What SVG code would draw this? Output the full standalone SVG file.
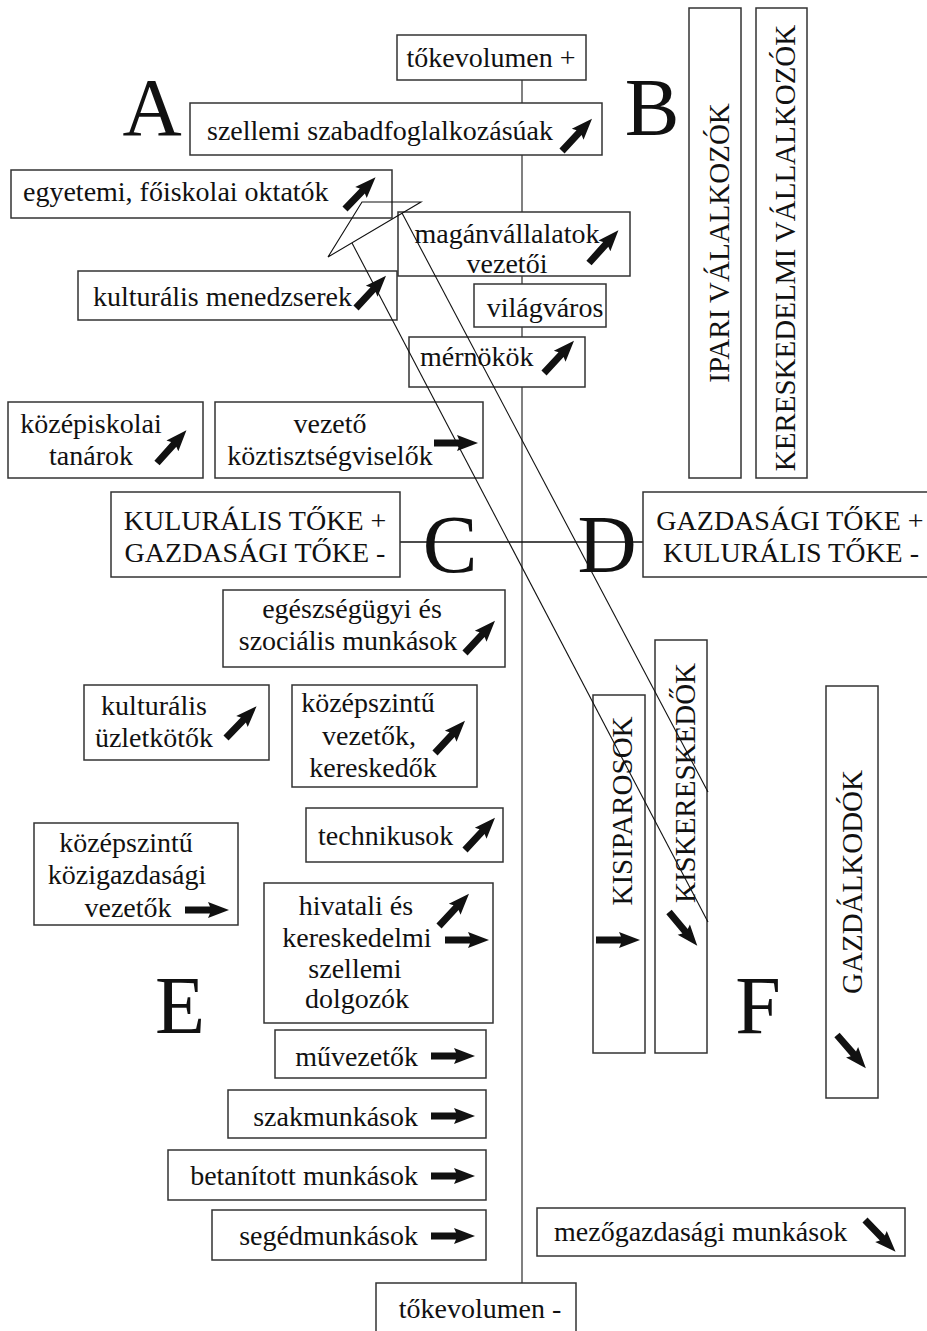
<svg xmlns="http://www.w3.org/2000/svg" xmlns:xlink="http://www.w3.org/1999/xlink" width="927" height="1331" viewBox="0 0 927 1331">
<style>
.box{fill:#fff;stroke:#333;stroke-width:1.5}
.t{font-family:"Liberation Serif","Times New Roman",serif;font-size:28px;fill:#111}
.v{font-size:29px}
.m{text-anchor:middle}
.e{text-anchor:end}
.big{font-family:"Liberation Serif","Times New Roman",serif;font-size:82px;fill:#111;text-anchor:middle}
.axis{stroke:#808080;stroke-width:2;fill:none}
.conn{stroke:#111;stroke-width:1.1;fill:none}
</style>
<defs>
<path id="arr" d="M0,-3.5 L25,-3.5 L23,-8 L44,0 L23,8 L25,3.5 L0,3.5 Z" fill="#111"/>
</defs>
<g id="axes">
<line class="axis" x1="522" y1="80" x2="522" y2="1283"/>
<line x1="400" y1="542" x2="643" y2="542" stroke="#111" stroke-width="1.3"/>
</g>
<g id="letters">
<text class="big" x="152" y="135">A</text>
<text class="big" x="652" y="135">B</text>
<text class="big" x="450" y="572">C</text>
<text class="big" x="607" y="572">D</text>
<text class="big" x="180" y="1033">E</text>
<text class="big" x="758" y="1033">F</text>
</g>
<g id="n-tokeplus"><rect class="box" x="397" y="35" width="189" height="45"/><text class="t m" x="491" y="67">tőkevolumen +</text></g>
<g id="n-szellemi"><rect class="box" x="190" y="103" width="412" height="52"/><text class="t" x="207" y="140">szellemi szabadfoglalkozásúak</text><use href="#arr" transform="translate(562,151) rotate(-47)"/></g>
<g id="n-ipari"><rect class="box" x="689" y="8" width="52" height="470"/><text class="t v m" transform="translate(729,243) rotate(-90)">IPARI VÁLALKOZÓK</text></g>
<g id="n-keresk"><rect class="box" x="756" y="8" width="51" height="470"/><text class="t v m" transform="translate(795,248) rotate(-90)">KERESKEDELMI VÁLLALKOZÓK</text></g>
<g id="n-egyetemi"><rect class="box" x="11" y="170" width="381" height="48"/><text class="t" x="23" y="201">egyetemi, főiskolai oktatók</text><use href="#arr" transform="translate(345,209) rotate(-46)"/></g>
<g id="n-magan"><rect class="box" x="398" y="212" width="232" height="64"/><text class="t m" x="507" y="243">magánvállalatok</text><text class="t m" x="507" y="273">vezetői</text><use href="#arr" transform="translate(589,263) rotate(-48)"/></g>
<g id="n-kultmen"><rect class="box" x="78" y="271" width="319" height="49"/><text class="t" x="93" y="306">kulturális menedzserek</text><use href="#arr" transform="translate(356,308) rotate(-47)"/></g>
<g id="n-vilagvaros"><rect class="box" x="474" y="284" width="132" height="43"/><text class="t m" x="545" y="317">világváros</text></g>
<g id="n-mernokok"><rect class="box" x="409" y="337" width="176" height="50"/><text class="t" x="420" y="366">mérnökök</text><use href="#arr" transform="translate(544,373) rotate(-47)"/></g>
<g id="n-kozepisk"><rect class="box" x="8" y="402" width="195" height="76"/><text class="t m" x="91" y="433">középiskolai</text><text class="t m" x="91" y="465">tanárok</text><use href="#arr" transform="translate(157,463) rotate(-48)"/></g>
<g id="n-vezeto"><rect class="box" x="215" y="402" width="268" height="76"/><text class="t m" x="330" y="433">vezető</text><text class="t m" x="330" y="465">köztisztségviselők</text><use href="#arr" transform="translate(434,443)"/></g>
<g id="n-kultoke"><rect class="box" x="111" y="492" width="289" height="85"/><text class="t m" x="255" y="530">KULURÁLIS TŐKE +</text><text class="t m" x="255" y="562">GAZDASÁGI TŐKE -</text></g>
<g id="n-gazdtoke"><rect class="box" x="643" y="492" width="290" height="85"/><text class="t m" x="790" y="530">GAZDASÁGI TŐKE +</text><text class="t m" x="791" y="562">KULURÁLIS TŐKE -</text></g>
<g id="n-egeszseg"><rect class="box" x="223" y="590" width="282" height="77"/><text class="t m" x="352" y="618">egészségügyi és</text><text class="t m" x="348" y="650">szociális munkások</text><use href="#arr" transform="translate(465,653) rotate(-47)"/></g>
<g id="n-kultuzl"><rect class="box" x="84" y="685" width="185" height="75"/><text class="t m" x="154" y="715">kulturális</text><text class="t m" x="154" y="747">üzletkötők</text><use href="#arr" transform="translate(226,738) rotate(-46)"/></g>
<g id="n-kozepvez"><rect class="box" x="292" y="685" width="185" height="102"/><text class="t m" x="368" y="712">középszintű</text><text class="t m" x="369" y="745">vezetők,</text><text class="t m" x="373" y="777">kereskedők</text><use href="#arr" transform="translate(435,753) rotate(-47)"/></g>
<g id="n-technikus"><rect class="box" x="306" y="808" width="197" height="54"/><text class="t" x="318" y="845">technikusok</text><use href="#arr" transform="translate(465,850) rotate(-47)"/></g>
<g id="n-kozig"><rect class="box" x="34" y="823" width="204" height="102"/><text class="t m" x="126" y="852">középszintű</text><text class="t m" x="127" y="884">közigazdasági</text><text class="t m" x="128" y="917">vezetők</text><use href="#arr" transform="translate(185,910)"/></g>
<g id="n-hivatali"><rect class="box" x="264" y="883" width="229" height="140"/><text class="t m" x="356" y="915">hivatali és</text><text class="t m" x="357" y="947">kereskedelmi</text><text class="t m" x="355" y="978">szellemi</text><text class="t m" x="357" y="1008">dolgozók</text><use href="#arr" transform="translate(439,926) rotate(-47)"/><use href="#arr" transform="translate(445,940)"/></g>
<g id="n-muvezeto"><rect class="box" x="275" y="1030" width="211" height="48"/><text class="t e" x="418" y="1066">művezetők</text><use href="#arr" transform="translate(431,1056)"/></g>
<g id="n-szakmunk"><rect class="box" x="228" y="1090" width="258" height="48"/><text class="t e" x="418" y="1126">szakmunkások</text><use href="#arr" transform="translate(431,1116)"/></g>
<g id="n-betanitott"><rect class="box" x="168" y="1150" width="318" height="50"/><text class="t e" x="418" y="1185">betanított munkások</text><use href="#arr" transform="translate(431,1176)"/></g>
<g id="n-segedmunk"><rect class="box" x="212" y="1210" width="274" height="50"/><text class="t e" x="418" y="1245">segédmunkások</text><use href="#arr" transform="translate(431,1236)"/></g>
<g id="n-mezogazd"><rect class="box" x="537" y="1208" width="368" height="48"/><text class="t" x="554" y="1241">mezőgazdasági munkások</text><use href="#arr" transform="translate(865,1220) rotate(46)"/></g>
<g id="n-tokeminus"><rect class="box" x="376" y="1283" width="200" height="60"/><text class="t m" x="480" y="1318">tőkevolumen -</text></g>
<g id="n-kisiparos"><rect class="box" x="593" y="695" width="52" height="358"/><text class="t v m" transform="translate(632,811) rotate(-90)">KISIPAROSOK</text><use href="#arr" transform="translate(596,940)"/></g>
<g id="n-kiskeresk"><rect class="box" x="655" y="640" width="52" height="413"/><text class="t v m" transform="translate(695,783) rotate(-90)">KISKERESKEDŐK</text><use href="#arr" transform="translate(669,912) rotate(50)"/></g>
<g id="n-gazdalk"><rect class="box" x="826" y="686" width="52" height="412"/><text class="t v m" transform="translate(862,882) rotate(-90)">GAZDÁLKODÓK</text><use href="#arr" transform="translate(837,1035) rotate(49)"/></g>
<g id="connectors">
<polygon class="conn" points="362,202 421,202 328,257"/>
<line class="conn" x1="352" y1="243" x2="708" y2="922"/>
<line class="conn" x1="402" y1="213" x2="708" y2="792"/>
</g>
</svg>
